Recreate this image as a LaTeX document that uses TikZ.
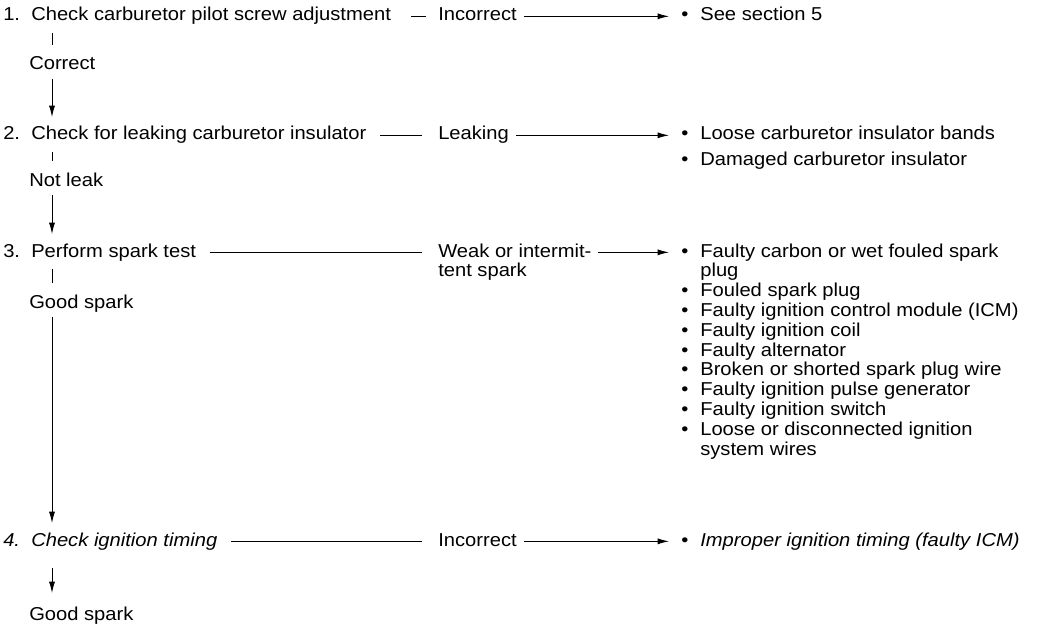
\documentclass[tikz,border=0pt]{standalone}
\usepackage{fontspec}
\setmainfont{Liberation Sans}[FakeStretch=1.08]
\usetikzlibrary{arrows.meta, positioning, calc}

\begin{document}
\begin{tikzpicture}[x=0.75pt, y=-0.75pt,
  every node/.style={font=\fontsize{14pt}{14.85pt}\selectfont},
  txt/.style={inner sep=0pt, anchor=base west, text height=10pt, text depth=3pt},
  lst/.style={inner sep=0pt, anchor=base west},
  link/.style={line width=0.7pt, shorten <=10pt, shorten >=12pt},
  tick/.style={line width=0.7pt, shorten <=6pt, shorten >=8.5pt},
  down/.style={line width=0.7pt, -{Latex[length=8.5pt, width=4.5pt]}, shorten <=3.5pt, shorten >=7pt},
  go/.style={line width=0.7pt, -{Latex[length=8.5pt, width=4.5pt]}, shorten <=5pt, shorten >=9pt}
]
  \useasboundingbox (0,0) rectangle (1045,624);
  \coordinate (spine) at (52,0);

  % steps down the left side
  \node[txt] (s1) at (3,21) {1.\ \ Check carburetor pilot screw adjustment};
  \node[txt] (c1) at (29,70) {Correct};
  \node[txt] (s2) at (3,140) {2.\ \ Check for leaking carburetor insulator};
  \node[txt] (c2) at (29,186) {Not leak};
  \node[txt] (s3) at (3,257) {3.\ \ Perform spark test};
  \node[txt] (c3) at (29,308) {Good spark};
  \node[txt] (s4) at (3,546) {\itshape 4.\ \ Check ignition timing};
  \node[txt] (ok4) at (29,620) {Good spark};

  % failed results
  \node[txt] (f1) at (438,21) {Incorrect};
  \node[txt] (f2) at (438,140) {Leaking};
  \node[lst] (f3) at (438,257) {\begin{tabular}[t]{@{}l@{}}Weak or intermit-\\tent spark\end{tabular}};
  \node[txt] (f4) at (438,546) {Incorrect};

  % causes
  \node[lst] (r1) at (681,21) {\begin{tabular}[t]{@{}l@{\hspace{9pt}}l@{}}
    \textbullet & See section 5\end{tabular}};
  \node[lst] (r2) at (681,140) {\begin{tabular}[t]{@{}l@{\hspace{9pt}}l@{}}
    \textbullet & Loose carburetor insulator bands\\[4pt]
    \textbullet & Damaged carburetor insulator\end{tabular}};
  \node[lst] (r3) at (681,257) {\begin{tabular}[t]{@{}l@{\hspace{9pt}}l@{}}
    \textbullet & Faulty carbon or wet fouled spark\\
                & plug\\
    \textbullet & Fouled spark plug\\
    \textbullet & Faulty ignition control module (ICM)\\
    \textbullet & Faulty ignition coil\\
    \textbullet & Faulty alternator\\
    \textbullet & Broken or shorted spark plug wire\\
    \textbullet & Faulty ignition pulse generator\\
    \textbullet & Faulty ignition switch\\
    \textbullet & Loose or disconnected ignition\\
                & system wires\end{tabular}};
  \node[lst] (r4) at (681,546) {\begin{tabular}[t]{@{}l@{\hspace{9pt}}l@{}}
    \textbullet & \itshape Improper ignition timing (faulty ICM)\end{tabular}};

  % across
  \draw[link, shorten <=15pt, shorten >=9pt] (s1.east) -- (f1.west);
  \draw[go] (f1.east) -- (r1.west |- f1.east);
  \draw[link] (s2.east) -- (f2.west);
  \draw[go] (f2.east) -- (r2.west |- f2.east);
  \draw[link] (s3.east) -- (f3.west |- s3.east);
  \draw[go] (f3.east |- s3.east) -- (r3.west |- s3.east);
  \draw[link] (s4.east) -- (f4.west);
  \draw[go] (f4.east) -- (r4.west |- f4.east);

  % down
  \draw[tick] (s1.south -| spine) -- (c1.north -| spine);
  \draw[down] (c1.south -| spine) -- (s2.north -| spine);
  \draw[tick] (s2.south -| spine) -- (c2.north -| spine);
  \draw[down] (c2.south -| spine) -- (s3.north -| spine);
  \draw[tick] (s3.south -| spine) -- (c3.north -| spine);
  \draw[down] (c3.south -| spine) -- (s4.north -| spine);
  \draw[down, shorten <=13pt, shorten >=10pt] (s4.south -| spine) -- (ok4.north -| spine);
\end{tikzpicture}
\end{document}
